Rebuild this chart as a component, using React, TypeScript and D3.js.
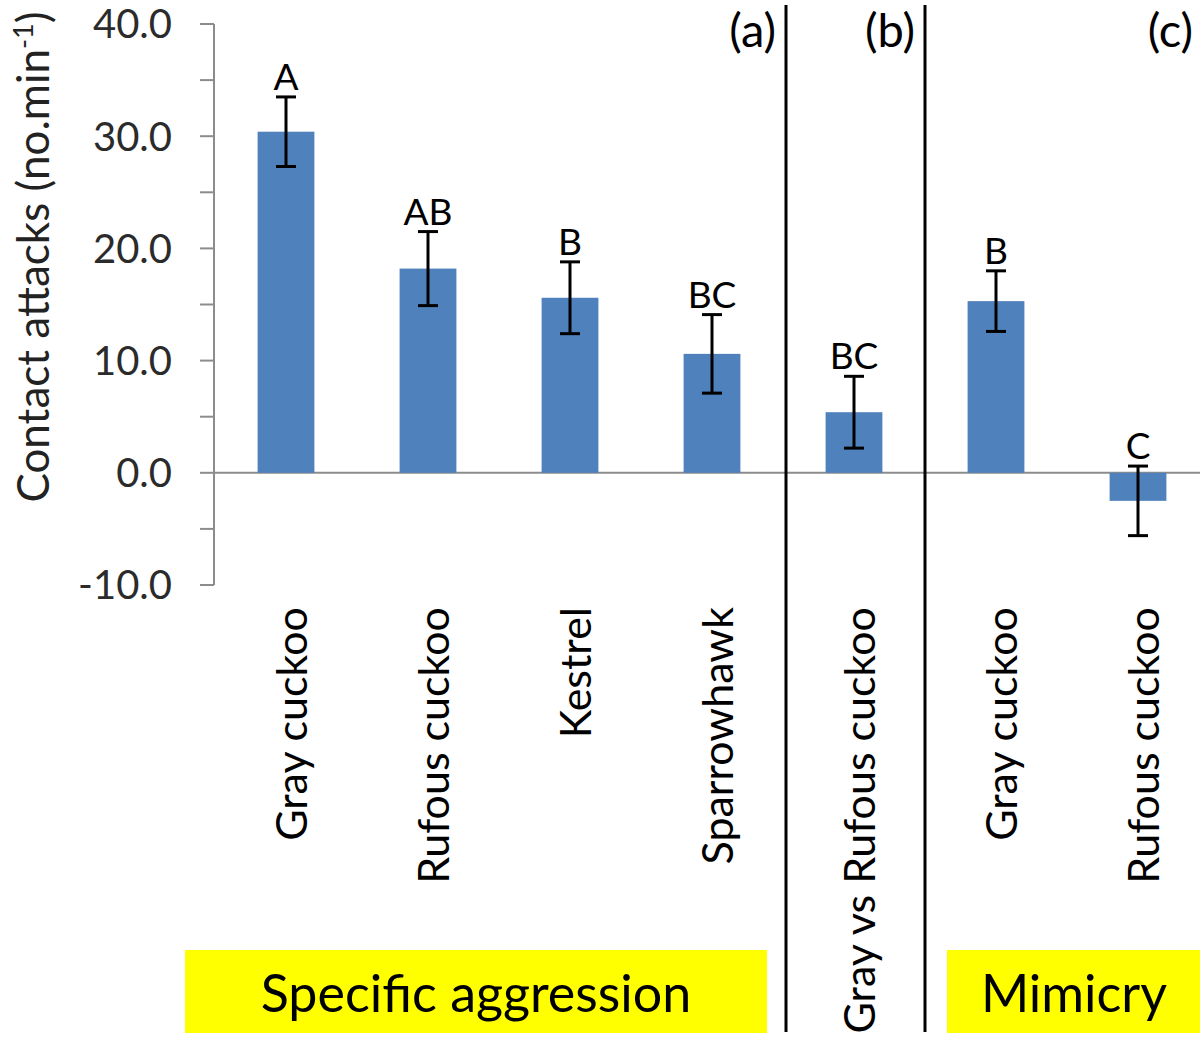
import React from "react";
import * as d3 from "d3";

const categories = ["Gray cuckoo", "Rufous cuckoo", "Kestrel", "Sparrowhawk", "Gray vs Rufous cuckoo", "Gray cuckoo ", "Rufous cuckoo "];
const means = [30.4, 18.2, 15.6, 10.6, 5.4, 15.3, -2.5];
const errors = [3.1, 3.3, 3.2, 3.5, 3.2, 2.7, 3.1];
const letters = ["A", "AB", "B", "BC", "BC", "B", "C"];
const yTicks = [-10, 0, 10, 20, 30, 40];
const minorTicks = [-10, -5, 0, 5, 10, 15, 20, 25, 30, 35, 40];
const panelLabels = ["(a)", "(b)", "(c)"];
const groupNames = ["Specific aggression", "Mimicry"];

const FONT = "Lato, 'Open Sans', sans-serif";

export default function App() {
  const W = 1200, H = 1040;
  const y = d3.scaleLinear().domain([-10, 40]).range([585, 24]);
  const x = d3.scaleBand<string>().domain(categories).range([215, 1209]).paddingInner(0.6).paddingOuter(0.3);
  const axisX = 214;
  const cx = (c: string) => (x(c) as number) + x.bandwidth() / 2;
  const sep1 = (cx(categories[3]) + cx(categories[4])) / 2 + 3;
  const sep2 = (cx(categories[4]) + cx(categories[5])) / 2;
  return (
    <svg width={W} height={H} style={{ position: "absolute", left: 0, top: 0, background: "#fff" }} fontFamily={FONT}>
      <rect x={0} y={0} width={W} height={H} fill="#fff" />
      {/* zero line */}
      <line x1={axisX} x2={W} y1={y(0)} y2={y(0)} stroke="#8c8c8c" strokeWidth={2} />
      {/* y axis */}
      <line x1={axisX} x2={axisX} y1={y(40)} y2={y(-10)} stroke="#8c8c8c" strokeWidth={2} />
      {minorTicks.map((t) => (
        <line key={t} x1={axisX - 14} x2={axisX} y1={y(t)} y2={y(t)} stroke="#8c8c8c" strokeWidth={2} />
      ))}
      {yTicks.map((t) => (
        <text key={t} x={172} y={y(t)} dy="0.36em" textAnchor="end" fontSize={40} fill="#2b2b2b">
          {t.toFixed(1)}
        </text>
      ))}
      <text transform={`translate(49, ${257}) rotate(-90)`} textAnchor="middle" fontSize={44} fill="#222">
        Contact attacks (no.min<tspan dy={-16} fontSize={27}>-1</tspan><tspan dy={16}>)</tspan>
      </text>
      {/* bars */}
      {categories.map((c, i) => {
        const v = means[i];
        return (
          <rect key={"b" + i} x={x(c)} width={x.bandwidth()} y={y(Math.max(0, v))} height={Math.abs(y(v) - y(0))} fill="#4f81bd" />
        );
      })}
      {/* error bars */}
      {categories.map((c, i) => {
        const hi = y(means[i] + errors[i]);
        const lo = y(means[i] - errors[i]);
        const m = cx(c);
        return (
          <g key={"e" + i} stroke="#000" strokeWidth={3}>
            <line x1={m} x2={m} y1={hi} y2={lo} />
            <line x1={m - 10} x2={m + 10} y1={hi} y2={hi} />
            <line x1={m - 10} x2={m + 10} y1={lo} y2={lo} />
          </g>
        );
      })}
      {/* letters */}
      {categories.map((c, i) => (
        <text key={"l" + i} x={cx(c)} y={y(means[i] + errors[i]) - 7} textAnchor="middle" fontSize={37} fill="#000">
          {letters[i]}
        </text>
      ))}
      {/* category labels */}
      {categories.map((c, i) => (
        <text key={"c" + i} transform={`translate(${cx(c) + 21}, 607) rotate(-90)`} textAnchor="end" fontSize={43} fill="#000">
          {c.trim()}
        </text>
      ))}
      {/* separators */}
      <line x1={sep1} x2={sep1} y1={5} y2={1032} stroke="#000" strokeWidth={3} />
      <line x1={sep2} x2={sep2} y1={5} y2={1032} stroke="#000" strokeWidth={3} />
      {/* panel labels */}
      <text x={sep1 - 10} y={47} textAnchor="end" fontSize={47} fill="#000">{panelLabels[0]}</text>
      <text x={sep2 - 10} y={47} textAnchor="end" fontSize={47} fill="#000">{panelLabels[1]}</text>
      <text x={1193} y={47} textAnchor="end" fontSize={47} fill="#000">{panelLabels[2]}</text>
      {/* group boxes */}
      <rect x={185} y={950} width={582} height={83} fill="#ffff00" />
      <text x={476} y={1012} textAnchor="middle" fontSize={52} fill="#000">{groupNames[0]}</text>
      <rect x={947} y={950} width={253} height={83} fill="#ffff00" />
      <text x={1074} y={1012} textAnchor="middle" fontSize={52} fill="#000">{groupNames[1]}</text>
    </svg>
  );
}
